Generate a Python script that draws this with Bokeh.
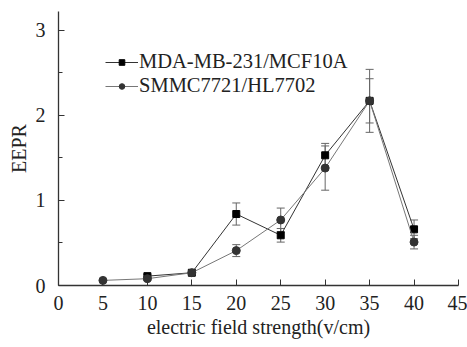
from bokeh.plotting import figure
from bokeh.models import ColumnDataSource, Whisker, TeeHead, Legend, LegendItem, Range1d, FixedTicker
from bokeh.embed import file_html
from bokeh.resources import INLINE

# data
x1 = [10, 15, 20, 25, 30, 35, 40]
y1 = [0.11, 0.15, 0.84, 0.59, 1.53, 2.17, 0.66]
e1 = [0.02, 0.02, 0.13, 0.08, 0.14, 0.37, 0.11]
x2 = [5, 10, 15, 20, 25, 30, 35, 40]
y2 = [0.06, 0.08, 0.15, 0.41, 0.77, 1.38, 2.17, 0.51]
e2 = [0.01, 0.02, 0.02, 0.07, 0.14, 0.26, 0.26, 0.08]
names = ["MDA-MB-231/MCF10A", "SMMC7721/HL7702"]
xticks = [0, 5, 10, 15, 20, 25, 30, 35, 40, 45]
yticks = [0, 1, 2, 3]
yminor = [0.5, 1.5, 2.5]

FONT = "Liberation Serif"

s1 = ColumnDataSource(dict(x=x1, y=y1, lo=[a - b for a, b in zip(y1, e1)], hi=[a + b for a, b in zip(y1, e1)]))
s2 = ColumnDataSource(dict(x=x2, y=y2, lo=[a - b for a, b in zip(y2, e2)], hi=[a + b for a, b in zip(y2, e2)]))

p = figure(frame_width=400, frame_height=274, output_backend="svg", toolbar_location=None,
           x_range=Range1d(0, 45), y_range=Range1d(0, 3.22),
           min_border_left=58, min_border_right=9, min_border_top=11, min_border_bottom=60)
p.outline_line_color = None
p.grid.visible = False
p.background_fill_color = "white"
p.border_fill_color = "white"

for ax in (p.xaxis[0], p.yaxis[0]):
    ax.axis_line_color = "#333333"
    ax.axis_line_width = 1.3
    ax.major_tick_line_color = "#333333"
    ax.minor_tick_line_color = "#333333"
    ax.major_tick_in = 6
    ax.major_tick_out = 0
    ax.minor_tick_in = 4
    ax.minor_tick_out = 0
    ax.major_label_text_font = FONT
    ax.major_label_text_font_size = "20px"
    ax.major_label_text_color = "#222222"
    ax.axis_label_text_font = FONT
    ax.axis_label_text_font_style = "normal"
    ax.axis_label_text_font_size = "20px"
    ax.axis_label_text_color = "#222222"

p.xaxis.ticker = FixedTicker(ticks=xticks)
p.xaxis.minor_tick_line_color = None
p.xaxis.major_label_standoff = 10
p.xaxis.axis_label = "electric field strength(v/cm)"
p.xaxis.axis_label_standoff = 3

p.yaxis.ticker = FixedTicker(ticks=yticks, minor_ticks=yminor)
p.yaxis.major_label_standoff = 13
p.yaxis.axis_label = "EEPR"
p.yaxis.axis_label_standoff = 3

for src in (s1, s2):
    w = Whisker(base="x", lower="lo", upper="hi", source=src, line_color="#666666", line_width=1,
                lower_head=TeeHead(size=8, line_color="#666666", line_width=1),
                upper_head=TeeHead(size=8, line_color="#666666", line_width=1))
    p.add_layout(w)

l1 = p.line("x", "y", source=s1, line_color="#333333", line_width=1)
m1 = p.scatter("x", "y", source=s1, marker="square", size=7, fill_color="black", line_color="black")
l2 = p.line("x", "y", source=s2, line_color="#777777", line_width=1)
m2 = p.scatter("x", "y", source=s2, marker="circle", size=8, fill_color="#333333", line_color="#333333")

leg = Legend(items=[LegendItem(label=names[0], renderers=[l1, m1]),
                    LegendItem(label=names[1], renderers=[l2, m2])],
             location=(47, 188), padding=0, margin=0, spacing=1,
             glyph_width=33, glyph_height=14, label_height=23, label_standoff=1,
             label_text_font=FONT, label_text_font_size="20.5px", label_text_color="#222222",
             background_fill_alpha=0, border_line_color=None)
p.add_layout(leg)

open("out.html", "w").write(file_html(p, INLINE))
